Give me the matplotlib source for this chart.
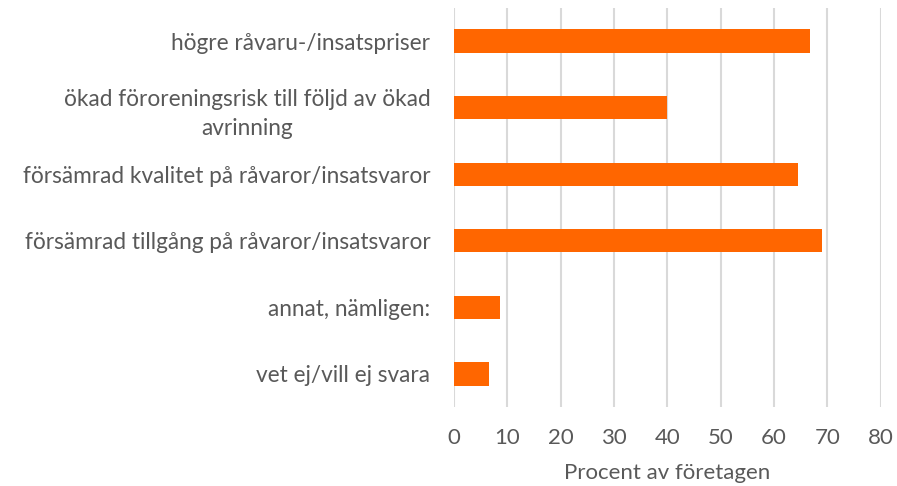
import matplotlib
matplotlib.use("Agg")
import matplotlib.pyplot as plt

plt.rcParams['font.family'] = ['Lato', 'DejaVu Sans']

categories = [
    "högre råvaru-/insatspriser",
    "ökad föroreningsrisk till följd av ökad\navrinning",
    "försämrad kvalitet på råvaror/insatsvaror",
    "försämrad tillgång på råvaror/insatsvaror",
    "annat, nämligen:",
    "vet ej/vill ej svara",
]
values = [66.7, 40.0, 64.4, 68.9, 8.7, 6.5]
x_ticks = [0, 10, 20, 30, 40, 50, 60, 70, 80]

text_col = '#595959'
grid_col = '#d9d9d9'

fig = plt.figure(figsize=(8.97, 4.86), dpi=100)
ax = fig.add_axes([0.506, 0.162, 0.476, 0.822])

pos = list(range(len(categories)))
ax.barh(pos, values, height=0.35, color='#ff6600', zorder=3)
ax.set_ylim(len(categories) - 0.5, -0.5)
ax.set_xlim(0, 80)
ax.set_yticks(pos)
ax.set_yticklabels(categories, fontsize=16.3, color=text_col,
                   multialignment='center', linespacing=1.5)
ax.set_xticks(x_ticks)
ax.set_xticklabels([str(t) for t in x_ticks], fontsize=16, color=text_col)
ax.tick_params(axis='both', length=0)
ax.tick_params(axis='x', pad=15)
ax.tick_params(axis='y', pad=17)
ax.xaxis.grid(True, color=grid_col, linewidth=1.5, zorder=0)
for s in ax.spines.values():
    s.set_visible(False)
ax.set_xlabel('Procent av företagen', fontsize=16, color=text_col, labelpad=11)

fig.savefig('out.png', dpi=100)
